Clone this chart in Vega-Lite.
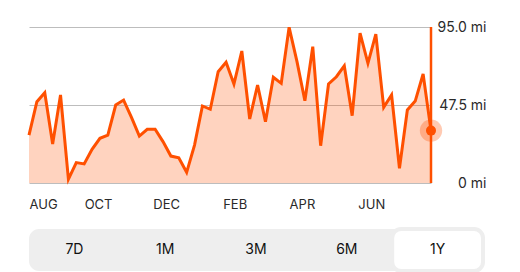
{
  "$schema": "https://vega.github.io/schema/vega-lite/v6.json",
  "background": "white",
  "padding": {"left": 23, "top": 20, "right": 0, "bottom": 0},
  "spacing": 16,
  "config": {"font": "Inter", "view": {"stroke": null}},
  "vconcat": [
    {
      "width": 402,
      "height": 156,
      "data": {"values": [
        {"date": "2022-08-13", "miles": 29.2},
        {"date": "2022-08-20", "miles": 49.5},
        {"date": "2022-08-27", "miles": 55.0},
        {"date": "2022-09-03", "miles": 23.8},
        {"date": "2022-09-10", "miles": 53.6},
        {"date": "2022-09-17", "miles": 2.3},
        {"date": "2022-09-24", "miles": 12.4},
        {"date": "2022-10-01", "miles": 11.6},
        {"date": "2022-10-08", "miles": 20.5},
        {"date": "2022-10-15", "miles": 27.2},
        {"date": "2022-10-22", "miles": 29.2},
        {"date": "2022-10-29", "miles": 47.5},
        {"date": "2022-11-05", "miles": 50.5},
        {"date": "2022-11-12", "miles": 40.0},
        {"date": "2022-11-19", "miles": 28.6},
        {"date": "2022-11-26", "miles": 32.7},
        {"date": "2022-12-03", "miles": 32.7},
        {"date": "2022-12-10", "miles": 25.2},
        {"date": "2022-12-17", "miles": 16.4},
        {"date": "2022-12-24", "miles": 15.4},
        {"date": "2022-12-31", "miles": 6.5},
        {"date": "2023-01-07", "miles": 23.1},
        {"date": "2023-01-14", "miles": 46.9},
        {"date": "2023-01-21", "miles": 44.9},
        {"date": "2023-01-28", "miles": 67.8},
        {"date": "2023-02-04", "miles": 73.5},
        {"date": "2023-02-11", "miles": 60.3},
        {"date": "2023-02-18", "miles": 80.4},
        {"date": "2023-02-25", "miles": 39.0},
        {"date": "2023-03-04", "miles": 59.7},
        {"date": "2023-03-11", "miles": 37.3},
        {"date": "2023-03-18", "miles": 64.4},
        {"date": "2023-03-25", "miles": 60.7},
        {"date": "2023-04-01", "miles": 94.8},
        {"date": "2023-04-08", "miles": 73.9},
        {"date": "2023-04-15", "miles": 50.1},
        {"date": "2023-04-22", "miles": 83.0},
        {"date": "2023-04-29", "miles": 22.7},
        {"date": "2023-05-06", "miles": 60.3},
        {"date": "2023-05-13", "miles": 64.7},
        {"date": "2023-05-20", "miles": 71.3},
        {"date": "2023-05-27", "miles": 41.0},
        {"date": "2023-06-03", "miles": 91.2},
        {"date": "2023-06-10", "miles": 72.9},
        {"date": "2023-06-17", "miles": 90.6},
        {"date": "2023-06-24", "miles": 46.1},
        {"date": "2023-07-01", "miles": 53.6},
        {"date": "2023-07-08", "miles": 9.0},
        {"date": "2023-07-15", "miles": 44.5},
        {"date": "2023-07-22", "miles": 49.9},
        {"date": "2023-07-29", "miles": 66.4},
        {"date": "2023-08-05", "miles": 31.9}
      ]},
      "encoding": {
        "x": {
          "field": "date",
          "type": "temporal",
          "title": null,
          "scale": {"type": "utc", "nice": false},
          "axis": {
            "values": [
              {"year": 2022, "month": 8, "date": 13, "utc": true},
              {"year": 2022, "month": 10, "date": 1, "utc": true},
              {"year": 2022, "month": 12, "date": 1, "utc": true},
              {"year": 2023, "month": 2, "date": 1, "utc": true},
              {"year": 2023, "month": 4, "date": 1, "utc": true},
              {"year": 2023, "month": 6, "date": 1, "utc": true}
            ],
            "labelExpr": "upper(utcFormat(datum.value, '%b'))",
            "grid": false,
            "ticks": false,
            "domain": false,
            "labelAlign": "left",
            "labelFlush": false,
            "labelOverlap": false,
            "labelPadding": 15,
            "labelFontSize": 13,
            "labelColor": "#2a2a2a"
          }
        }
      },
      "layer": [
        {
          "mark": {"type": "area", "color": "#FF5000", "opacity": 0.25},
          "encoding": {
            "y": {
              "field": "miles",
              "type": "quantitative",
              "title": null,
              "scale": {"domain": [0, 95], "nice": false},
              "axis": {
                "orient": "right",
                "values": [0, 47.5, 95],
                "labelExpr": "datum.value == 0 ? '0 mi' : format(datum.value, '.1f') + ' mi'",
                "grid": true,
                "gridColor": "#bdbdbd",
                "gridWidth": 1,
                "ticks": false,
                "domain": false,
                "labelAlign": "right",
                "labelBaseline": "middle",
                "labelPadding": 55,
                "labelFontSize": 14,
                "labelColor": "#2a2a2a"
              }
            }
          }
        },
        {
          "mark": {"type": "line", "color": "#FF5000", "strokeWidth": 3},
          "encoding": {"y": {"field": "miles", "type": "quantitative"}}
        },
        {
          "transform": [
            {"joinaggregate": [{"op": "max", "field": "date", "as": "last"}]},
            {"filter": "time(datum.date) == time(datum.last)"}
          ],
          "mark": {"type": "rule", "color": "#FF5000", "strokeWidth": 2.5},
          "encoding": {}
        },
        {
          "transform": [
            {"joinaggregate": [{"op": "max", "field": "date", "as": "last"}]},
            {"filter": "time(datum.date) == time(datum.last)"}
          ],
          "mark": {"type": "point", "filled": true, "size": 500, "color": "#FF5000", "opacity": 0.3},
          "encoding": {"y": {"field": "miles", "type": "quantitative"}}
        },
        {
          "transform": [
            {"joinaggregate": [{"op": "max", "field": "date", "as": "last"}]},
            {"filter": "time(datum.date) == time(datum.last)"}
          ],
          "mark": {"type": "point", "filled": true, "size": 100, "color": "#FF5000", "opacity": 1},
          "encoding": {"y": {"field": "miles", "type": "quantitative"}}
        }
      ]
    },
    {
      "width": 454,
      "height": 42,
      "view": {"fill": "#eeeeee", "stroke": null, "cornerRadius": 10},
      "data": {"values": [
        {"range": "7D", "selected": false},
        {"range": "1M", "selected": false},
        {"range": "3M", "selected": false},
        {"range": "6M", "selected": false},
        {"range": "1Y", "selected": true}
      ]},
      "encoding": {
        "x": {
          "field": "range",
          "type": "nominal",
          "sort": ["7D", "1M", "3M", "6M", "1Y"],
          "axis": null,
          "scale": {"paddingInner": 0, "paddingOuter": 0}
        }
      },
      "layer": [
        {
          "transform": [{"filter": "datum.selected"}],
          "mark": {"type": "bar", "color": "white", "cornerRadius": 9, "stroke": "#eeeeee", "strokeWidth": 4}
        },
        {
          "mark": {"type": "text", "fontSize": 14, "color": "#111111"},
          "encoding": {
            "text": {"field": "range"},
            "fontWeight": {"condition": {"test": "datum.selected", "value": "bold"}, "value": 500}
          }
        }
      ]
    }
  ]
}
